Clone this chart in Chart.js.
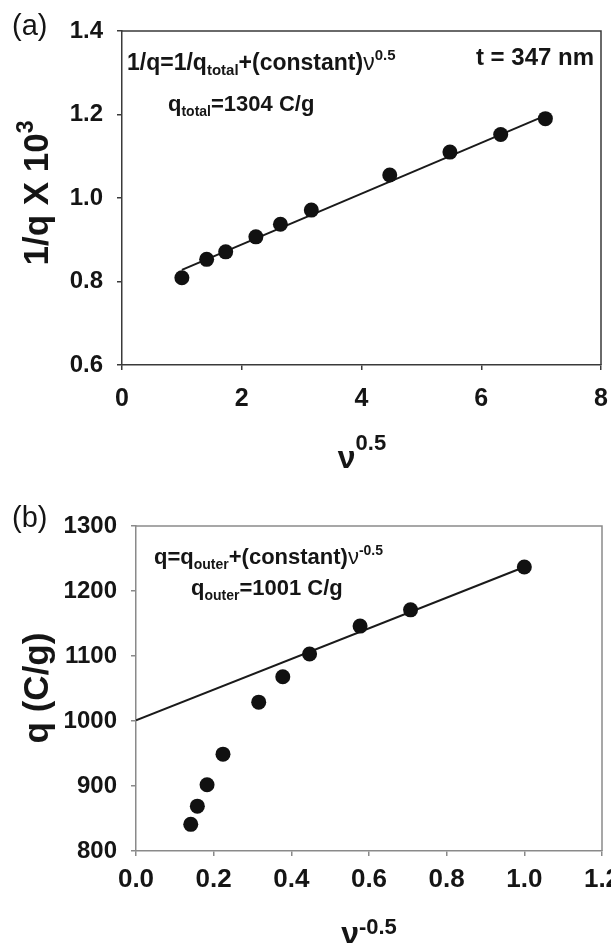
<!DOCTYPE html>
<html>
<head>
<meta charset="utf-8">
<script src="https://cdn.jsdelivr.net/npm/chart.js@4.4.1/dist/chart.umd.min.js"></script>
<style>
  html, body { margin: 0; padding: 0; background: #ffffff; }
  #wrap { position: relative; width: 611px; height: 943px; overflow: hidden; }
  canvas { position: absolute; left: 0; }
  #chartA { top: 0; }
  #chartB { top: 470px; }
</style>
</head>
<body>
<div id="wrap">
  <canvas id="chartA" width="611" height="470"></canvas>
  <canvas id="chartB" width="611" height="473"></canvas>
</div>
<script>
// ---- (a) inverse specific charge vs square root of sweep rate ----
const sqrtRate  = [1.000, 1.414, 1.732, 2.236, 2.646, 3.162, 4.472, 5.477, 6.325, 7.071];
const invCharge = [0.809, 0.853, 0.871, 0.907, 0.937, 0.971, 1.055, 1.110, 1.152, 1.190];
const qTotal    = 1304;    // C/g, intercept of the linear fit is 1000/qTotal
const invSlope  = 0.0609;  // slope of the fit (1/q x 10^3 per unit v^0.5)
const xTicksA   = [0, 2, 4, 6, 8];
const yTicksA   = [0.6, 0.8, 1.0, 1.2, 1.4];

// ---- (b) specific charge vs inverse square root of sweep rate ----
const invSqrtRate = [0.141, 0.158, 0.183, 0.224, 0.316, 0.378, 0.447, 0.577, 0.707, 1.000];
const charge      = [841, 869, 902, 949, 1029, 1068, 1103, 1146, 1171, 1237];
const qOuter      = 1001;  // C/g, intercept of the linear fit
const chargeSlope = 236;   // slope of the fit (C/g per unit v^-0.5)
const xTicksB     = [0.0, 0.2, 0.4, 0.6, 0.8, 1.0, 1.2];
const yTicksB     = [800, 900, 1000, 1100, 1200, 1300];

const FAMILY = "'Liberation Sans', Arial, Helvetica, sans-serif";
const INK = '#151515';

// draws a run of text pieces (for sub/superscripts) starting at x, baseline y
function drawRich(ctx, x, y, parts, align) {
  const fontOf = p => (p.w || 'bold') + ' ' + p.s + 'px ' + FAMILY;
  let total = 0;
  parts.forEach(p => { ctx.font = fontOf(p); total += ctx.measureText(p.t).width; });
  let cx = x;
  if (align === 'center') cx = x - total / 2;
  else if (align === 'right') cx = x - total;
  ctx.textBaseline = 'alphabetic';
  ctx.textAlign = 'left';
  parts.forEach(p => {
    ctx.font = fontOf(p);
    ctx.fillText(p.t, cx, y + (p.dy || 0));
    cx += ctx.measureText(p.t).width;
  });
}

// frame on the top and right of the plot area, plus the free text of each panel
function panelPlugin(id, frameColor, texts) {
  return {
    id: id,
    beforeDatasetsDraw(chart) {
      const a = chart.chartArea, ctx = chart.ctx;
      ctx.save();
      ctx.strokeStyle = frameColor;
      ctx.lineWidth = 1.5;
      ctx.beginPath();
      ctx.moveTo(a.left, a.top);
      ctx.lineTo(a.right, a.top);
      ctx.lineTo(a.right, a.bottom);
      ctx.stroke();
      ctx.restore();
    },
    afterDraw(chart) {
      const ctx = chart.ctx;
      ctx.save();
      ctx.fillStyle = INK;
      texts.forEach(tx => {
        if (tx.rotate) {
          ctx.save();
          ctx.translate(tx.x, tx.y);
          ctx.rotate(-Math.PI / 2);
          drawRich(ctx, 0, 0, tx.parts, 'center');
          ctx.restore();
        } else {
          drawRich(ctx, tx.x, tx.y, tx.parts, tx.align || 'left');
        }
      });
      ctx.restore();
    }
  };
}

function axisOptions(cfg) {
  return {
    type: 'linear',
    min: cfg.min,
    max: cfg.max,
    afterFit: s => {
      if (cfg.height) { s.height = cfg.height; s.paddingLeft = 0; s.paddingRight = 0; }
      if (cfg.width) { s.width = cfg.width; s.paddingTop = 0; s.paddingBottom = 0; }
    },
    afterBuildTicks: s => { s.ticks = cfg.ticks.map(v => ({ value: v })); },
    ticks: {
      font: { family: FAMILY, size: cfg.size, weight: 'bold' },
      color: INK,
      padding: cfg.pad,
      autoSkip: false,
      maxRotation: 0,
      callback: cfg.fmt
    },
    grid: { drawOnChartArea: false, drawTicks: true, tickLength: 5, color: cfg.color, lineWidth: 1.5 },
    border: { display: true, color: cfg.color, width: 1.5 }
  };
}

function scatterSet(xs, ys) {
  return {
    data: xs.map((x, i) => ({ x: x, y: ys[i] })),
    pointRadius: 7.5,
    pointBackgroundColor: '#111111',
    pointBorderWidth: 0,
    showLine: false
  };
}

function fitSet(x0, x1, intercept, slope) {
  return {
    data: [{ x: x0, y: intercept + slope * x0 }, { x: x1, y: intercept + slope * x1 }],
    showLine: true,
    borderColor: '#1a1a1a',
    borderWidth: 2,
    pointRadius: 0,
    fill: false
  };
}

const common = {
  responsive: false,
  animation: false,
  events: [],
  plugins: { legend: { display: false }, tooltip: { enabled: false } }
};

// ---------- panel (a) ----------
const textsA = [
  { x: 12, y: 35, parts: [{ t: '(a)', s: 29, w: 'normal' }] },
  { x: 127, y: 70, parts: [
      { t: '1/q=1/q', s: 23 }, { t: 'total', s: 15, dy: 5 },
      { t: '+(constant)', s: 23 }, { t: 'ν', s: 23, w: 'normal' }, { t: '0.5', s: 15, dy: -10 } ] },
  { x: 168, y: 111, parts: [
      { t: 'q', s: 22 }, { t: 'total', s: 14, dy: 5 }, { t: '=1304 C/g', s: 22 } ] },
  { x: 594, y: 65, align: 'right', parts: [{ t: 't = 347 nm', s: 24 }] },
  { x: 362, y: 468, align: 'center', parts: [
      { t: 'ν', s: 32 }, { t: '0.5', s: 22, dy: -18 } ] },
  { x: 48, y: 193, rotate: true, parts: [
      { t: '1/q X 10', s: 35 }, { t: '3', s: 23, dy: -15 } ] }
];

new Chart(document.getElementById('chartA'), {
  type: 'scatter',
  data: {
    datasets: [
      scatterSet(sqrtRate, invCharge),
      fitSet(sqrtRate[0], sqrtRate[sqrtRate.length - 1], 1000 / qTotal, invSlope)
    ]
  },
  options: Object.assign({}, common, {
    layout: { padding: { top: 31, right: 10, left: 0, bottom: 0 } },
    scales: {
      x: axisOptions({ min: 0, max: 8, ticks: xTicksA, height: 105, size: 25, pad: 14,
                       color: '#3a3a3a', fmt: v => String(v) }),
      y: axisOptions({ min: 0.6, max: 1.4, ticks: yTicksA, width: 122, size: 24, pad: 14,
                       color: '#3a3a3a', fmt: v => v.toFixed(1) })
    }
  }),
  plugins: [panelPlugin('panelA', '#3a3a3a', textsA)]
});

// ---------- panel (b) ----------
const textsB = [
  { x: 12, y: 57, parts: [{ t: '(b)', s: 29, w: 'normal' }] },
  { x: 154, y: 94, parts: [
      { t: 'q=q', s: 22 }, { t: 'outer', s: 14, dy: 5 },
      { t: '+(constant)', s: 22 }, { t: 'ν', s: 22, w: 'normal' }, { t: '-0.5', s: 14, dy: -9 } ] },
  { x: 191, y: 125, parts: [
      { t: 'q', s: 22 }, { t: 'outer', s: 14, dy: 5 }, { t: '=1001 C/g', s: 22 } ] },
  { x: 369, y: 474, align: 'center', parts: [
      { t: 'ν', s: 32 }, { t: '-0.5', s: 22, dy: -10 } ] },
  { x: 48, y: 218, rotate: true, parts: [{ t: 'q (C/g)', s: 35 }] }
];

new Chart(document.getElementById('chartB'), {
  type: 'scatter',
  data: {
    datasets: [
      scatterSet(invSqrtRate, charge),
      fitSet(0, invSqrtRate[invSqrtRate.length - 1], qOuter, chargeSlope)
    ]
  },
  options: Object.assign({}, common, {
    layout: { padding: { top: 56, right: 9, left: 0, bottom: 0 } },
    scales: {
      x: axisOptions({ min: 0, max: 1.2, ticks: xTicksB, height: 92, size: 26, pad: 8,
                       color: '#8a8a8a', fmt: v => v.toFixed(1) }),
      y: axisOptions({ min: 800, max: 1300, ticks: yTicksB, width: 136, size: 24, pad: 14,
                       color: '#8a8a8a', fmt: v => String(v) })
    }
  }),
  plugins: [panelPlugin('panelB', '#8a8a8a', textsB)]
});
</script>
</body>
</html>
